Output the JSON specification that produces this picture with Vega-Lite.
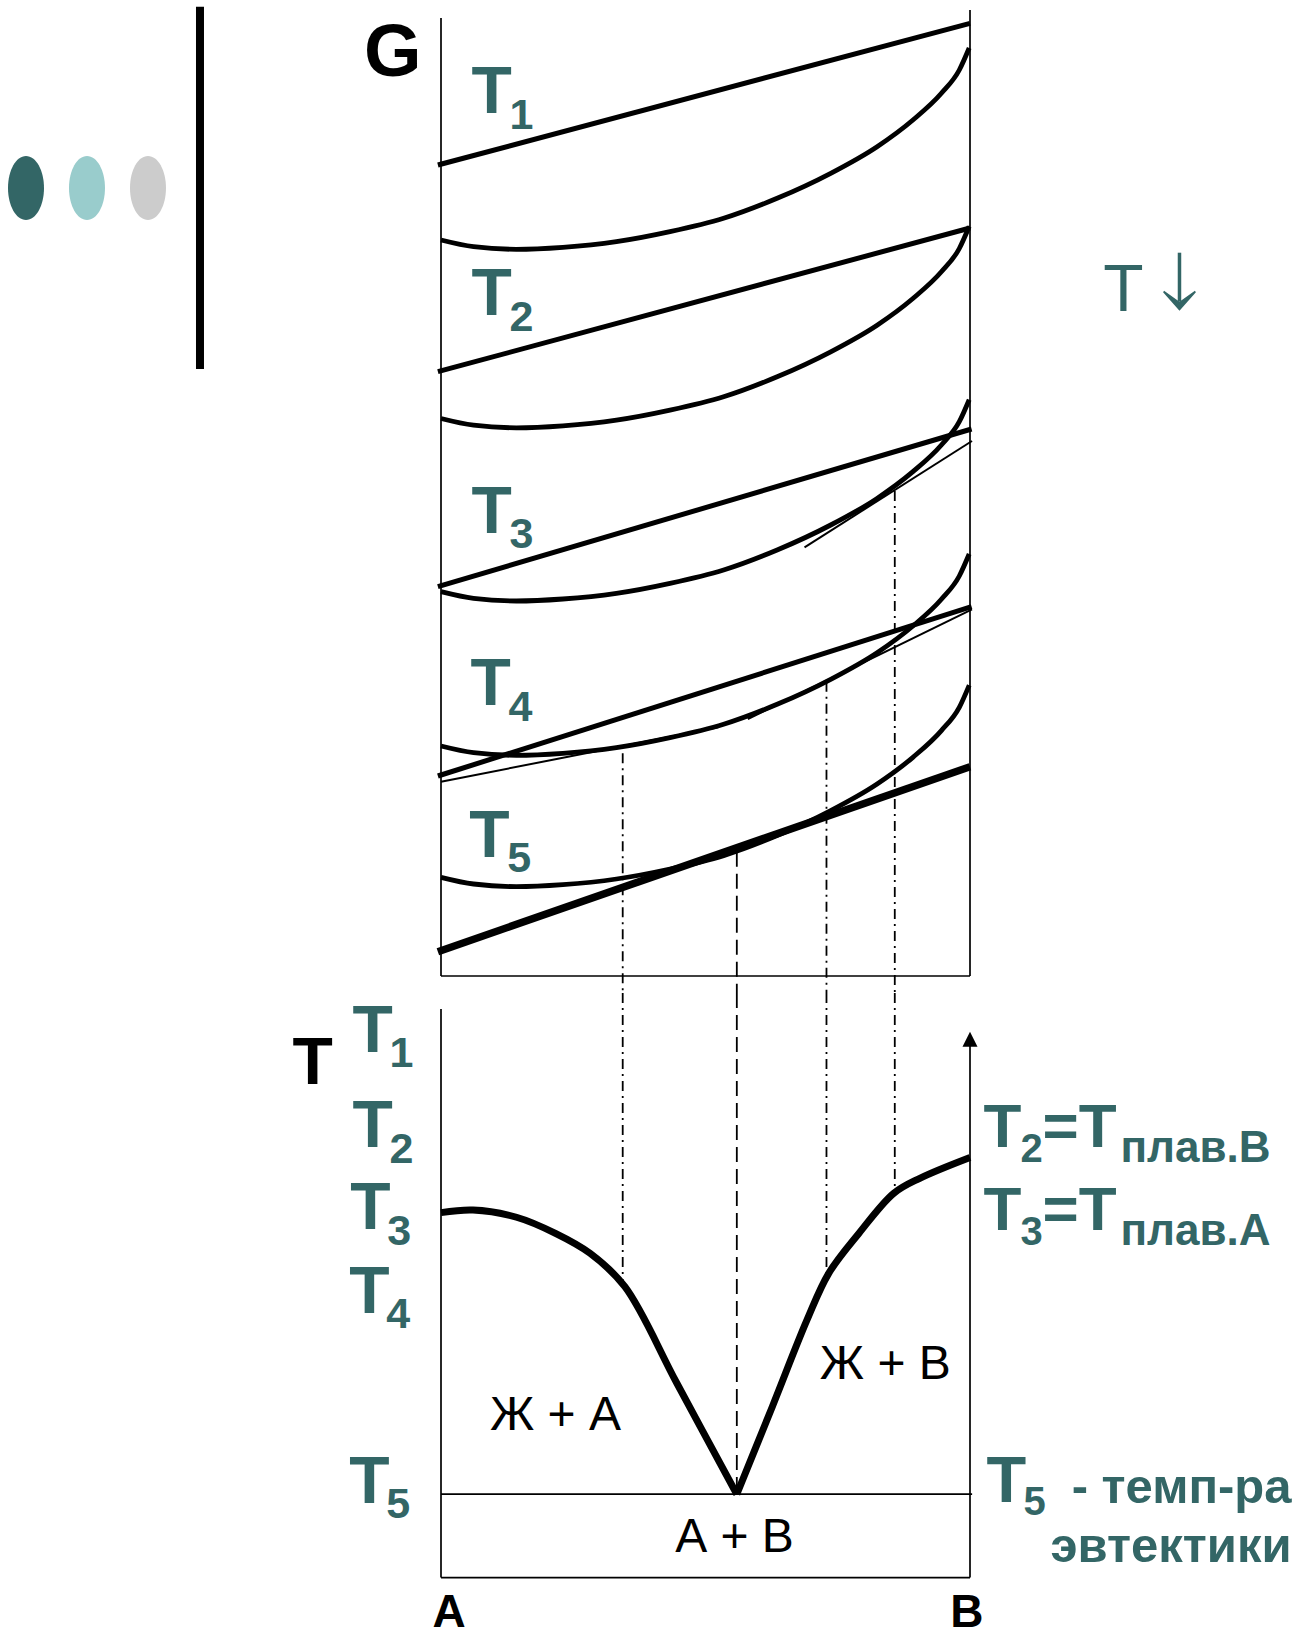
{
  "$schema": "https://vega.github.io/schema/vega-lite/v6.json",
  "padding": 0,
  "spacing": 0,
  "bounds": "flush",
  "background": "white",
  "config": {"view": {"stroke": null}, "font": "Liberation Sans"},
  "datasets": {
    "dots": [
      {"c": -0.7845, "G": 78.8, "k": "dark"},
      {"c": -0.6692, "G": 78.8, "k": "light"},
      {"c": -0.5539, "G": 78.8, "k": "grey"}
    ],
    "bar": [{"c": -0.4556, "G": 96.93, "G2": 60.7}],
    "gframe": [
      {"c": 0, "c2": 0, "G": 95.8, "G2": 0},
      {"c": 1, "c2": 1, "G": 96.6, "G2": 0},
      {"c": 0, "c2": 1, "G": 0, "G2": 0}
    ],
    "liquid": [
      {"id": "T1", "c": 0, "G": 73.6}, {"id": "T1", "c": 0.0616, "G": 72.93}, {"id": "T1", "c": 0.1425, "G": 72.67}, {"id": "T1", "c": 0.2304, "G": 72.87}, {"id": "T1", "c": 0.3316, "G": 73.43}, {"id": "T1", "c": 0.4329, "G": 74.43}, {"id": "T1", "c": 0.5342, "G": 75.77}, {"id": "T1", "c": 0.6354, "G": 77.77}, {"id": "T1", "c": 0.7367, "G": 80.27}, {"id": "T1", "c": 0.8244, "G": 82.93}, {"id": "T1", "c": 0.8921, "G": 85.6}, {"id": "T1", "c": 0.9459, "G": 88.27}, {"id": "T1", "c": 0.9798, "G": 90.6}, {"id": "T1", "c": 0.9985, "G": 92.8},
      {"id": "T2", "c": 0, "G": 55.75}, {"id": "T2", "c": 0.0616, "G": 55.08}, {"id": "T2", "c": 0.1425, "G": 54.82}, {"id": "T2", "c": 0.2304, "G": 55.02}, {"id": "T2", "c": 0.3316, "G": 55.58}, {"id": "T2", "c": 0.4329, "G": 56.58}, {"id": "T2", "c": 0.5342, "G": 57.92}, {"id": "T2", "c": 0.6354, "G": 59.92}, {"id": "T2", "c": 0.7367, "G": 62.42}, {"id": "T2", "c": 0.8244, "G": 65.08}, {"id": "T2", "c": 0.8921, "G": 67.75}, {"id": "T2", "c": 0.9459, "G": 70.42}, {"id": "T2", "c": 0.9798, "G": 72.75}, {"id": "T2", "c": 0.9985, "G": 74.95},
      {"id": "T3", "c": 0, "G": 38.43}, {"id": "T3", "c": 0.0616, "G": 37.76}, {"id": "T3", "c": 0.1425, "G": 37.5}, {"id": "T3", "c": 0.2304, "G": 37.7}, {"id": "T3", "c": 0.3316, "G": 38.26}, {"id": "T3", "c": 0.4329, "G": 39.26}, {"id": "T3", "c": 0.5342, "G": 40.6}, {"id": "T3", "c": 0.6354, "G": 42.6}, {"id": "T3", "c": 0.7367, "G": 45.1}, {"id": "T3", "c": 0.8244, "G": 47.76}, {"id": "T3", "c": 0.8921, "G": 50.43}, {"id": "T3", "c": 0.9459, "G": 53.1}, {"id": "T3", "c": 0.9798, "G": 55.43}, {"id": "T3", "c": 0.9985, "G": 57.63},
      {"id": "T4", "c": 0, "G": 23.0}, {"id": "T4", "c": 0.0616, "G": 22.33}, {"id": "T4", "c": 0.1425, "G": 22.07}, {"id": "T4", "c": 0.2304, "G": 22.27}, {"id": "T4", "c": 0.3316, "G": 22.83}, {"id": "T4", "c": 0.4329, "G": 23.83}, {"id": "T4", "c": 0.5342, "G": 25.17}, {"id": "T4", "c": 0.6354, "G": 27.17}, {"id": "T4", "c": 0.7367, "G": 29.67}, {"id": "T4", "c": 0.8244, "G": 32.33}, {"id": "T4", "c": 0.8921, "G": 35.0}, {"id": "T4", "c": 0.9459, "G": 37.67}, {"id": "T4", "c": 0.9798, "G": 40.0}, {"id": "T4", "c": 0.9985, "G": 42.2},
      {"id": "T5", "c": 0, "G": 9.87}, {"id": "T5", "c": 0.0616, "G": 9.2}, {"id": "T5", "c": 0.1425, "G": 8.94}, {"id": "T5", "c": 0.2304, "G": 9.14}, {"id": "T5", "c": 0.3316, "G": 9.7}, {"id": "T5", "c": 0.4329, "G": 10.7}, {"id": "T5", "c": 0.5342, "G": 12.04}, {"id": "T5", "c": 0.6354, "G": 14.04}, {"id": "T5", "c": 0.7367, "G": 16.54}, {"id": "T5", "c": 0.8244, "G": 19.2}, {"id": "T5", "c": 0.8921, "G": 21.87}, {"id": "T5", "c": 0.9459, "G": 24.54}, {"id": "T5", "c": 0.9798, "G": 26.87}, {"id": "T5", "c": 0.9985, "G": 29.07}
    ],
    "solid": [
      {"id": "T1", "c": -0.0059, "G": 81.1}, {"id": "T1", "c": 1.0, "G": 95.27},
      {"id": "T2", "c": -0.0059, "G": 60.43}, {"id": "T2", "c": 1.0, "G": 74.8},
      {"id": "T3", "c": -0.0059, "G": 38.93}, {"id": "T3", "c": 1.003, "G": 54.7},
      {"id": "T4", "c": -0.0059, "G": 20.0}, {"id": "T4", "c": 1.003, "G": 36.93}
    ],
    "solid5": [
      {"id": "T5", "c": -0.0059, "G": 2.43}, {"id": "T5", "c": 1.0, "G": 20.93}
    ],
    "tangent": [
      {"id": "t3", "c": 0.6872, "G": 42.87}, {"id": "t3", "c": 1.0038, "G": 53.5},
      {"id": "t4a", "c": 0, "G": 19.43}, {"id": "t4a", "c": 0.524, "G": 24.87},
      {"id": "t4b", "c": 0.58, "G": 25.7}, {"id": "t4b", "c": 1.0038, "G": 36.67}
    ],
    "dropG": [
      {"c": 0.3435, "G": 22.27, "G2": -1.7, "s": "dashdot"},
      {"c": 0.5592, "G": 12.43, "G2": -1.7, "s": "dash"},
      {"c": 0.7287, "G": 29.43, "G2": -1.7, "s": "dashdot"},
      {"c": 0.8578, "G": 48.5, "G2": -1.7, "s": "dashdot"}
    ],
    "gLabel": [{"c": -0.1456, "G": 90.05, "t": "G"}],
    "topT": [
      {"c": 0.0577, "G": 86.27, "t": "T", "s": "1"},
      {"c": 0.0577, "G": 66.1, "t": "T", "s": "2"},
      {"c": 0.0577, "G": 44.33, "t": "T", "s": "3"},
      {"c": 0.0558, "G": 27.1, "t": "T", "s": "4"},
      {"c": 0.0535, "G": 11.93, "t": "T", "s": "5"}
    ],
    "cooling": [{"c": 1.29, "G": 66.53, "t": "T"}],
    "coolStem": [{"c": 1.396, "G": 72.33, "G2": 67.43}],
    "coolHead": [{"c": 1.396, "G": 68.17}],
    "tframe": [
      {"c": 0, "c2": 0, "T": 830.8, "T2": 326},
      {"c": 1, "c2": 1, "T": 804, "T2": 326},
      {"c": 0, "c2": 1, "T": 326, "T2": 326},
      {"c": 0, "c2": 1.004, "T": 400, "T2": 400}
    ],
    "arrowHead": [{"c": 1, "T": 804}],
    "dropT": [
      {"c": 0.3435, "T": 845, "T2": 586, "s": "dashdot"},
      {"c": 0.5592, "T": 845, "T2": 400, "s": "dash"},
      {"c": 0.7287, "T": 845, "T2": 595, "s": "dashdot"},
      {"c": 0.8578, "T": 845, "T2": 668, "s": "dashdot"}
    ],
    "liquidus": [
      {"b": "L", "c": 0, "T": 650}, {"b": "L", "c": 0.0605, "T": 652.3}, {"b": "L", "c": 0.1427, "T": 645.9}, {"b": "L", "c": 0.2164, "T": 631.6}, {"b": "L", "c": 0.2817, "T": 613.9}, {"b": "L", "c": 0.3476, "T": 584.2}, {"b": "L", "c": 0.4459, "T": 498.5}, {"b": "L", "c": 0.5592, "T": 400},
      {"b": "R", "c": 0.5592, "T": 400}, {"b": "R", "c": 0.6263, "T": 477.7}, {"b": "R", "c": 0.6919, "T": 554.7}, {"b": "R", "c": 0.7329, "T": 596.1}, {"b": "R", "c": 0.7902, "T": 631.7}, {"b": "R", "c": 0.856, "T": 667.2}, {"b": "R", "c": 0.9051, "T": 680.5}, {"b": "R", "c": 1.0, "T": 699}
    ],
    "tAxisLabel": [{"c": -0.2807, "T": 764.2, "t": "T"}],
    "leftT": [
      {"c": -0.1675, "T": 792.9, "t": "T", "s": "1"},
      {"c": -0.1675, "T": 708.0, "t": "T", "s": "2"},
      {"c": -0.1716, "T": 635.2, "t": "T", "s": "3"},
      {"c": -0.1733, "T": 561.2, "t": "T", "s": "4"},
      {"c": -0.1733, "T": 392.5, "t": "T", "s": "5"}
    ],
    "meltT": [
      {"c": 1.0255, "T": 708.5, "t": "T", "s": "2", "e": "=T", "p": "плав.В"},
      {"c": 1.0255, "T": 634.6, "t": "T", "s": "3", "e": "=T", "p": "плав.А"}
    ],
    "eutT": [{"c": 1.0312, "T": 393.4, "t": "T", "s": "5"}],
    "eutText": [{"c": 1.6078, "T": 391.9, "t": "- темп-ра\nэвтектики"}],
    "regions": [
      {"c": 0.2164, "T": 457.0, "t": "Ж + А"},
      {"c": 0.8399, "T": 502.0, "t": "Ж + В"},
      {"c": 0.5548, "T": 348.4, "t": "А + В"}
    ],
    "ends": [
      {"c": 0.0151, "T": 282.1, "t": "A"},
      {"c": 0.994, "T": 282.1, "t": "B"}
    ]
  },
  "vconcat": [
    {
      "width": 1303,
      "height": 993,
      "encoding": {
        "x": {"field": "c", "type": "quantitative", "scale": {"domain": [-0.83365, 1.62949], "nice": false, "zero": false}, "axis": null},
        "y": {"field": "G", "type": "quantitative", "scale": {"domain": [-1.7, 97.6], "nice": false, "zero": false}, "axis": null}
      },
      "layer": [
        {
          "data": {"name": "dots"},
          "mark": {"type": "point", "shape": "M0,-1A0.5625,1 0 1 1 0,1A0.5625,1 0 1 1 0,-1Z", "filled": true, "size": 4096, "opacity": 1, "strokeWidth": 0},
          "encoding": {"color": {"field": "k", "type": "nominal", "scale": {"domain": ["dark", "light", "grey"], "range": ["#336666", "#99CCCC", "#CCCCCC"]}, "legend": null}}
        },
        {
          "data": {"name": "bar"},
          "mark": {"type": "rule", "color": "black", "strokeWidth": 8},
          "encoding": {"y2": {"field": "G2"}}
        },
        {
          "data": {"name": "gframe"},
          "mark": {"type": "rule", "color": "black", "strokeWidth": 1.7},
          "encoding": {"x2": {"field": "c2"}, "y2": {"field": "G2"}}
        },
        {
          "data": {"name": "dropG"},
          "mark": {"type": "rule", "color": "black", "strokeWidth": 1.8},
          "encoding": {
            "y2": {"field": "G2"},
            "strokeDash": {"field": "s", "type": "nominal", "scale": {"domain": ["dashdot", "dash"], "range": [[10, 5, 2, 5], [15, 7]]}, "legend": null}
          }
        },
        {
          "data": {"name": "liquid"},
          "mark": {"type": "line", "interpolate": "monotone", "color": "black", "strokeWidth": 4.8},
          "encoding": {"detail": {"field": "id", "type": "nominal"}}
        },
        {
          "data": {"name": "solid"},
          "mark": {"type": "line", "color": "black", "strokeWidth": 5},
          "encoding": {"detail": {"field": "id", "type": "nominal"}}
        },
        {
          "data": {"name": "solid5"},
          "mark": {"type": "line", "color": "black", "strokeWidth": 7.5},
          "encoding": {"detail": {"field": "id", "type": "nominal"}}
        },
        {
          "data": {"name": "tangent"},
          "mark": {"type": "line", "color": "black", "strokeWidth": 2},
          "encoding": {"detail": {"field": "id", "type": "nominal"}}
        },
        {
          "data": {"name": "gLabel"},
          "mark": {"type": "text", "font": "Liberation Sans", "fontWeight": "bold", "fontSize": 74, "align": "left", "baseline": "alphabetic", "color": "black"},
          "encoding": {"text": {"field": "t"}}
        },
        {
          "data": {"name": "topT"},
          "mark": {"type": "text", "font": "Liberation Sans", "fontWeight": "bold", "fontSize": 66, "align": "left", "baseline": "alphabetic", "color": "#336666"},
          "encoding": {"text": {"field": "t"}}
        },
        {
          "data": {"name": "topT"},
          "mark": {"type": "text", "font": "Liberation Sans", "fontWeight": "bold", "fontSize": 43, "align": "left", "baseline": "alphabetic", "color": "#336666", "dx": 38, "dy": 15.5},
          "encoding": {"text": {"field": "s"}}
        },
        {
          "data": {"name": "cooling"},
          "mark": {"type": "text", "font": "Liberation Sans", "fontSize": 66, "align": "center", "baseline": "alphabetic", "color": "#336666"},
          "encoding": {"text": {"field": "t"}}
        },
        {
          "data": {"name": "coolStem"},
          "mark": {"type": "rule", "color": "#336666", "strokeWidth": 3.5},
          "encoding": {"y2": {"field": "G2"}}
        },
        {
          "data": {"name": "coolHead"},
          "mark": {"type": "point", "shape": "M0,1L-1,-0.12L-0.94,-0.22L0,0.45L0.94,-0.22L1,-0.12Z", "filled": true, "size": 1076, "opacity": 1, "color": "#336666", "strokeWidth": 0}
        }
      ]
    },
    {
      "width": 1303,
      "height": 642,
      "encoding": {
        "x": {"field": "c", "type": "quantitative", "scale": {"domain": [-0.83365, 1.62949], "nice": false, "zero": false}, "axis": null},
        "y": {"field": "T", "type": "quantitative", "scale": {"domain": [275, 845], "nice": false, "zero": false}, "axis": null}
      },
      "layer": [
        {
          "data": {"name": "tframe"},
          "mark": {"type": "rule", "color": "black", "strokeWidth": 1.7},
          "encoding": {"x2": {"field": "c2"}, "y2": {"field": "T2"}}
        },
        {
          "data": {"name": "arrowHead"},
          "mark": {"type": "point", "shape": "M0,-1L1,1L-1,1Z", "filled": true, "size": 225, "opacity": 1, "color": "black", "strokeWidth": 0}
        },
        {
          "data": {"name": "dropT"},
          "mark": {"type": "rule", "color": "black", "strokeWidth": 1.8},
          "encoding": {
            "y2": {"field": "T2"},
            "strokeDash": {"field": "s", "type": "nominal", "scale": {"domain": ["dashdot", "dash"], "range": [[10, 5, 2, 5], [15, 7]]}, "legend": null}
          }
        },
        {
          "data": {"name": "liquidus"},
          "mark": {"type": "line", "interpolate": "catmull-rom", "color": "black", "strokeWidth": 7, "strokeJoin": "miter"},
          "encoding": {"detail": {"field": "b", "type": "nominal"}}
        },
        {
          "data": {"name": "tAxisLabel"},
          "mark": {"type": "text", "font": "Liberation Sans", "fontWeight": "bold", "fontSize": 66, "align": "left", "baseline": "alphabetic", "color": "black"},
          "encoding": {"text": {"field": "t"}}
        },
        {
          "data": {"name": "leftT"},
          "mark": {"type": "text", "font": "Liberation Sans", "fontWeight": "bold", "fontSize": 66, "align": "left", "baseline": "alphabetic", "color": "#336666"},
          "encoding": {"text": {"field": "t"}}
        },
        {
          "data": {"name": "leftT"},
          "mark": {"type": "text", "font": "Liberation Sans", "fontWeight": "bold", "fontSize": 43, "align": "left", "baseline": "alphabetic", "color": "#336666", "dx": 37, "dy": 15.5},
          "encoding": {"text": {"field": "s"}}
        },
        {
          "data": {"name": "meltT"},
          "mark": {"type": "text", "font": "Liberation Sans", "fontWeight": "bold", "fontSize": 62, "align": "left", "baseline": "alphabetic", "color": "#336666"},
          "encoding": {"text": {"field": "t"}}
        },
        {
          "data": {"name": "meltT"},
          "mark": {"type": "text", "font": "Liberation Sans", "fontWeight": "bold", "fontSize": 40, "align": "left", "baseline": "alphabetic", "color": "#336666", "dx": 37, "dy": 15},
          "encoding": {"text": {"field": "s"}}
        },
        {
          "data": {"name": "meltT"},
          "mark": {"type": "text", "font": "Liberation Sans", "fontWeight": "bold", "fontSize": 62, "align": "left", "baseline": "alphabetic", "color": "#336666", "dx": 59},
          "encoding": {"text": {"field": "e"}}
        },
        {
          "data": {"name": "meltT"},
          "mark": {"type": "text", "font": "Liberation Sans", "fontWeight": "bold", "fontSize": 44, "align": "left", "baseline": "alphabetic", "color": "#336666", "dx": 137, "dy": 15},
          "encoding": {"text": {"field": "p"}}
        },
        {
          "data": {"name": "eutT"},
          "mark": {"type": "text", "font": "Liberation Sans", "fontWeight": "bold", "fontSize": 65, "align": "left", "baseline": "alphabetic", "color": "#336666"},
          "encoding": {"text": {"field": "t"}}
        },
        {
          "data": {"name": "eutT"},
          "mark": {"type": "text", "font": "Liberation Sans", "fontWeight": "bold", "fontSize": 40, "align": "left", "baseline": "alphabetic", "color": "#336666", "dx": 37, "dy": 13.5},
          "encoding": {"text": {"field": "s"}}
        },
        {
          "data": {"name": "eutText"},
          "mark": {"type": "text", "font": "Liberation Sans", "fontWeight": "bold", "fontSize": 49, "align": "right", "baseline": "alphabetic", "color": "#336666", "lineBreak": "\n", "lineHeight": 58.4},
          "encoding": {"text": {"field": "t"}}
        },
        {
          "data": {"name": "regions"},
          "mark": {"type": "text", "font": "Liberation Sans", "fontSize": 48, "align": "center", "baseline": "alphabetic", "color": "black"},
          "encoding": {"text": {"field": "t"}}
        },
        {
          "data": {"name": "ends"},
          "mark": {"type": "text", "font": "Liberation Sans", "fontWeight": "bold", "fontSize": 46, "align": "center", "baseline": "alphabetic", "color": "black"},
          "encoding": {"text": {"field": "t"}}
        }
      ]
    }
  ]
}
